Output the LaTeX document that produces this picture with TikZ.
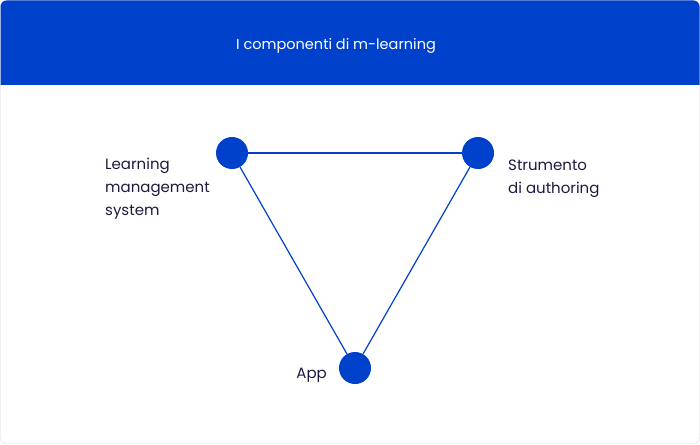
\documentclass[tikz,border=0pt]{standalone}
\usepackage{fontspec}
\setmainfont{Poppins}
\definecolor{bblue}{HTML}{0041CC}
\definecolor{ink}{HTML}{1C1B3F}
\begin{document}
\begin{tikzpicture}[x=1pt,y=-1pt,
  dot/.style={circle,fill=bblue,minimum size=32pt,inner sep=0pt},
  lbl/.style={text=ink,font=\fontsize{15}{23}\selectfont,align=left,inner sep=0pt},
  edge/.style={draw=bblue,line width=1.2pt}]
\useasboundingbox (0,0) rectangle (700,444);
\fill[white,draw=black!15,rounded corners=6pt] (0.5,0.5) rectangle (699.5,443.5);
\begin{scope}
\clip[rounded corners=6pt] (0.5,0.5) rectangle (699.5,443.5);
\fill[bblue] (0,0) rectangle (700,85);
\end{scope}
\node[text=white,font=\fontsize{14.5}{18}\selectfont] (title) at (336,46) {I componenti di m-learning};
\node[dot] (a) at (232,153) {};
\node[dot] (b) at (478,153) {};
\node[dot] (c) at (355,368) {};
\draw[edge] (a) -- (b);
\draw[edge] (a) -- (c);
\draw[edge] (b) -- (c);
\node[lbl,anchor=north west] (la) at (105,158) {Learning\\management\\system};
\node[lbl,anchor=north west] (lb) at (508,160) {Strumento\\di authoring};
\node[lbl,anchor=east] (lc) at (327,375) {App};
\end{tikzpicture}
\end{document}
